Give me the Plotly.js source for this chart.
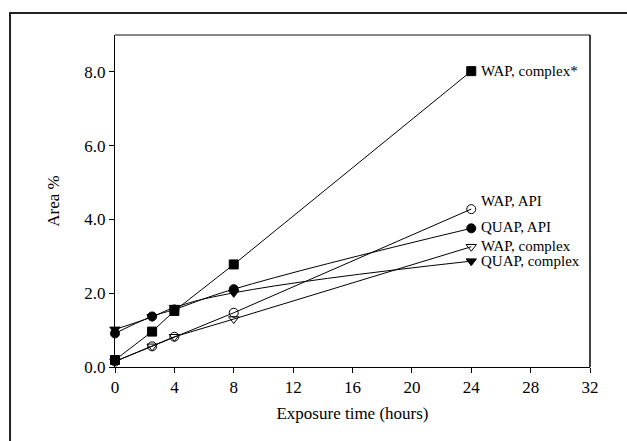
<!DOCTYPE html>
<html><head><meta charset="utf-8">
<script src="https://cdn.plot.ly/plotly-3.0.1.min.js"></script>
<style>html,body{margin:0;padding:0;background:#fff}#c{width:627px;height:441px}</style>
</head><body><div id="c"></div>
<script>
const times = [0, 2.5, 4, 8, 24];
const wapComplexStar = [0.19, 0.96, 1.52, 2.78, 8.02];
const wapApi = [0.15, 0.56, 0.82, 1.47, 4.28];
const quapApi = [0.91, 1.37, 1.56, 2.11, 3.76];
const wapComplex = [0.15, 0.56, 0.82, 1.30, 3.26];
const quapComplex = [1.02, 1.36, 1.61, 2.01, 2.87];
const seriesNames = ["WAP, complex*", "WAP, API", "QUAP, API", "WAP, complex", "QUAP, complex"];
const xTicks = [0, 4, 8, 12, 16, 20, 24, 28, 32];
const yTicks = [0, 2, 4, 6, 8];
const labelY = [8.02, 4.5, 3.8, 3.28, 2.87];

const font = "'Liberation Serif', 'Times New Roman', Times, serif";
const mk = (y, sym, name, shape) => ({
  x: times, y: y, name: name, type: 'scatter', mode: 'lines+markers',
  line: {color: '#000', width: 1, shape: shape, smoothing: 1.3},
  marker: {symbol: sym, size: 9, color: '#000', line: {color: '#000', width: 1}},
  cliponaxis: false
});
const data = [
  mk(wapComplexStar, 'square', seriesNames[0], 'linear'),
  mk(wapApi, 'circle-open', seriesNames[1], 'linear'),
  mk(quapApi, 'circle', seriesNames[2], 'spline'),
  mk(wapComplex, 'triangle-down-open', seriesNames[3], 'linear'),
  mk(quapComplex, 'triangle-down', seriesNames[4], 'spline')
];
const annotations = seriesNames.map((n, i) => ({
  x: 24, y: labelY[i], xref: 'x', yref: 'y', text: n, showarrow: false,
  xanchor: 'left', yanchor: 'middle', xshift: 8,
  font: {family: font, size: 15, color: '#000'}
}));
const layout = {
  width: 627, height: 441,
  margin: {l: 115, r: 37, t: 35, b: 74},
  paper_bgcolor: '#fff', plot_bgcolor: '#fff',
  showlegend: false,
  font: {family: font, color: '#000', size: 17},
  xaxis: {range: [0, 32], tickvals: xTicks, ticktext: xTicks.map(String),
    showline: true, linecolor: '#000', linewidth: 1, ticks: 'outside', ticklen: 5,
    tickcolor: '#000', showgrid: false, zeroline: false,
    tickfont: {family: font, size: 17},
    title: {text: 'Exposure time (hours)', font: {family: font, size: 17}, standoff: 10}},
  yaxis: {range: [0, 9], tickvals: yTicks, ticktext: yTicks.map(v => v.toFixed(1)),
    showline: true, linecolor: '#000', linewidth: 1, ticks: 'outside', ticklen: 5,
    tickcolor: '#000', showgrid: false, zeroline: false,
    tickfont: {family: font, size: 17},
    title: {text: 'Area %', font: {family: font, size: 17}, standoff: 20}},
  annotations: annotations,
  shapes: [
    {type: 'line', xref: 'paper', yref: 'paper', x0: 0, x1: 1, y0: 1, y1: 1, line: {color: '#888', width: 2}},
    {type: 'line', xref: 'paper', yref: 'paper', x0: 1, x1: 1, y0: 0, y1: 1, line: {color: '#000', width: 1.5}},
    {type: 'rect', xref: 'paper', yref: 'paper', x0: -0.221, x1: 1.3, y0: -0.4, y1: 1.066, line: {color: '#222', width: 2}}
  ]
};
Plotly.newPlot('c', data, layout, {staticPlot: true});
</script></body></html>
